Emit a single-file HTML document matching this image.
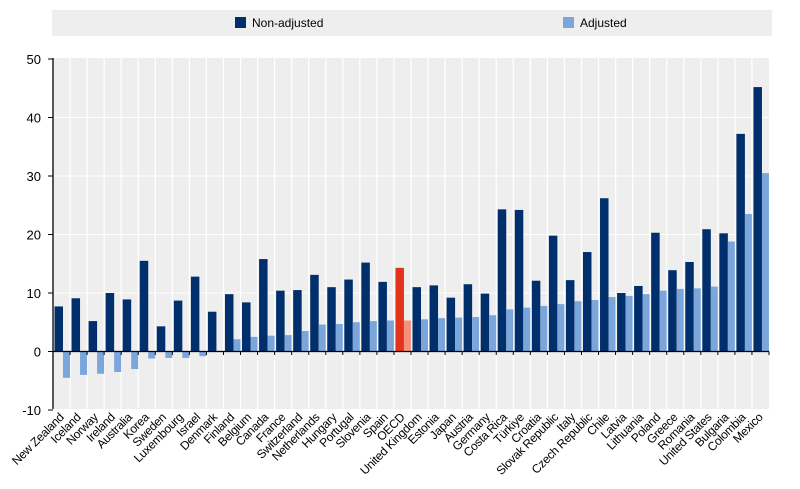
<!DOCTYPE html>
<html><head><meta charset="utf-8"><style>
body{margin:0;background:#fff;}
svg{display:block;font-family:"Liberation Sans",Arial,sans-serif;}
</style></head><body>
<svg width="800" height="489" viewBox="0 0 800 489" id="s">
<rect x="52" y="10" width="720" height="26" fill="#eeeeee"/>
<rect x="235" y="17" width="11" height="11" fill="#002f6c"/>
<text x="252" y="27" font-size="12" fill="#000">Non-adjusted</text>
<rect x="563" y="17" width="11" height="11" fill="#7ba6dc"/>
<text x="580" y="27" font-size="12" fill="#000">Adjusted</text>
<rect x="53" y="58" width="716" height="351" fill="#eeeeee"/>
<g id="g"></g>
</svg>
<script>
var d=[["New Zealand",7.7,-4.5],["Iceland",9.1,-4],["Norway",5.2,-3.8],["Ireland",10,-3.5],["Australia",8.9,-3],["Korea",15.5,-1.2],["Sweden",4.3,-1.1],["Luxembourg",8.7,-1.1],["Israel",12.8,-0.8],["Denmark",6.8,0.1],["Finland",9.8,2.1],["Belgium",8.4,2.5],["Canada",15.8,2.7],["France",10.4,2.8],["Switzerland",10.5,3.5],["Netherlands",13.1,4.6],["Hungary",11,4.7],["Portugal",12.3,5],["Slovenia",15.2,5.2],["Spain",11.9,5.3],["OECD",14.3,5.3],["United Kingdom",11,5.5],["Estonia",11.3,5.7],["Japan",9.2,5.8],["Austria",11.5,5.9],["Germany",9.9,6.2],["Costa Rica",24.3,7.2],["Türkiye",24.2,7.5],["Croatia",12.1,7.8],["Slovak Republic",19.8,8.1],["Italy",12.2,8.6],["Czech Republic",17,8.8],["Chile",26.2,9.3],["Latvia",10,9.5],["Lithuania",11.2,9.8],["Poland",20.3,10.4],["Greece",13.9,10.7],["Romania",15.3,10.8],["United States",20.9,11.1],["Bulgaria",20.2,18.8],["Colombia",37.2,23.5],["Mexico",45.2,30.5]];
var x0=53,w=716/42,z=351.5,k=5.85,h='';
for(var v=-10;v<=50;v+=10){var y=z-v*k;
 if(v>-10&&v<50&&v!=0)h+='<line x1="53" x2="769" y1="'+y+'" y2="'+y+'" stroke="#fff" stroke-width="1"/>';
 h+='<text x="41" y="'+(y+5)+'" font-size="13" text-anchor="end">'+v+'</text>';}
for(var i=1;i<42;i++){var x=x0+i*w;h+='<line x1="'+x+'" x2="'+x+'" y1="58" y2="409" stroke="#fff" stroke-width="1.3"/>';}
d.forEach(function(r,i){var c=x0+i*w,o=r[0]=="OECD";
 function bar(xx,ww,v,col){var y=v>=0?z-v*k:z;h+='<rect x="'+xx+'" y="'+y+'" width="'+ww+'" height="'+Math.abs(v*k)+'" fill="'+col+'"/>';}
 bar(c+1.5,8.5,r[1],o?'#e2341a':'#002f6c');bar(c+10,7,r[2],o?'#f5917a':'#7ba6dc');
 var cx=c+w/2+3;h+='<text transform="translate('+cx+',418) rotate(-45)" font-size="12" text-anchor="end" letter-spacing="-0.3">'+r[0]+'</text>';
 h+='<line x1="'+(c+w)+'" x2="'+(c+w)+'" y1="351.5" y2="355" stroke="#000"/>';});
h+='<line x1="53" x2="769" y1="'+z+'" y2="'+z+'" stroke="#000" stroke-width="1.3"/>';
h+='<line x1="53" x2="53" y1="58" y2="409" stroke="#000" stroke-width="1.3"/>';
for(var v=-10;v<=50;v+=10){var y=z-v*k;h+='<line x1="48" x2="53" y1="'+y+'" y2="'+y+'" stroke="#000"/>';}
document.getElementById('g').innerHTML=h;
</script>
</body></html>
